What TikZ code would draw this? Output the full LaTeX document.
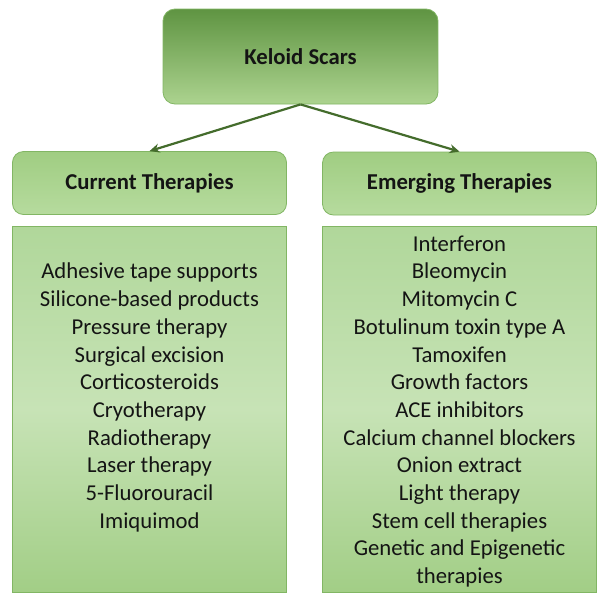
\documentclass[tikz,border=0pt]{standalone}
\usepackage{fontspec}
\setmainfont{Carlito}
\usetikzlibrary{arrows.meta}
\definecolor{topA}{RGB}{95,148,66}
\definecolor{topB}{RGB}{172,211,143}
\definecolor{hdA}{RGB}{160,205,130}
\definecolor{hdB}{RGB}{182,219,158}
\definecolor{lsA}{RGB}{176,215,154}
\definecolor{lsM}{RGB}{199,227,182}
\definecolor{lsB}{RGB}{162,206,134}
\definecolor{edge}{RGB}{130,182,100}
\definecolor{arr}{RGB}{68,108,44}
\definecolor{txt}{RGB}{20,20,20}
\begin{document}
\begin{tikzpicture}[x=1pt,y=-1pt,
  rootbox/.style={draw=edge, line width=0.8pt, rounded corners=12pt, top color=topA, bottom color=topB,
    minimum width=275pt, minimum height=95pt, inner sep=0pt, text=txt,
    font=\fontsize{22.7}{27.7}\selectfont\bfseries},
  headbox/.style={draw=edge, line width=0.8pt, rounded corners=11pt, top color=hdA, bottom color=hdB,
    minimum width=274pt, minimum height=63pt, inner sep=0pt, text=txt,
    font=\fontsize{22.7}{27.7}\selectfont\bfseries},
  listbox/.style={draw=edge, line width=0.8pt, top color=lsA, bottom color=lsB, middle color=lsM,
    minimum width=274pt, minimum height=366pt, inner sep=0pt},
  listtext/.style={align=center, text=txt, inner sep=0pt,
    font=\fontsize{22.7}{27.7}\selectfont},
  conn/.style={draw=arr, line width=2.2pt, -{Stealth[length=10pt,width=9pt]}}
]
\useasboundingbox (0,0) rectangle (604,603);
\fill[white] (0,0) rectangle (604,603);

\node[rootbox] (root) at (300.5,56.5) {Keloid Scars};
\node[headbox] (cur) at (149.5,183) {Current Therapies};
\node[headbox] (emg) at (459.5,183.5) {Emerging Therapies};
\node[listbox] (curbox) at (149.5,409) {};
\node[listbox] (emgbox) at (459.5,409) {};

\node[listtext] (curlist) at (149.5,397.5) {Adhesive tape supports\\Silicone-based products\\Pressure therapy\\Surgical excision\\Corticosteroids\\Cryotherapy\\Radiotherapy\\Laser therapy\\5-Fluorouracil\\Imiquimod};
\node[listtext] (emglist) at (459.5,411.5) {Interferon\\Bleomycin\\Mitomycin C\\Botulinum toxin type A\\Tamoxifen\\Growth factors\\ACE inhibitors\\Calcium channel blockers\\Onion extract\\Light therapy\\Stem cell therapies\\Genetic and Epigenetic\\therapies};

\draw[conn] (root.south) -- (cur.north);
\draw[conn] (root.south) -- (emg.north);
\end{tikzpicture}
\end{document}
